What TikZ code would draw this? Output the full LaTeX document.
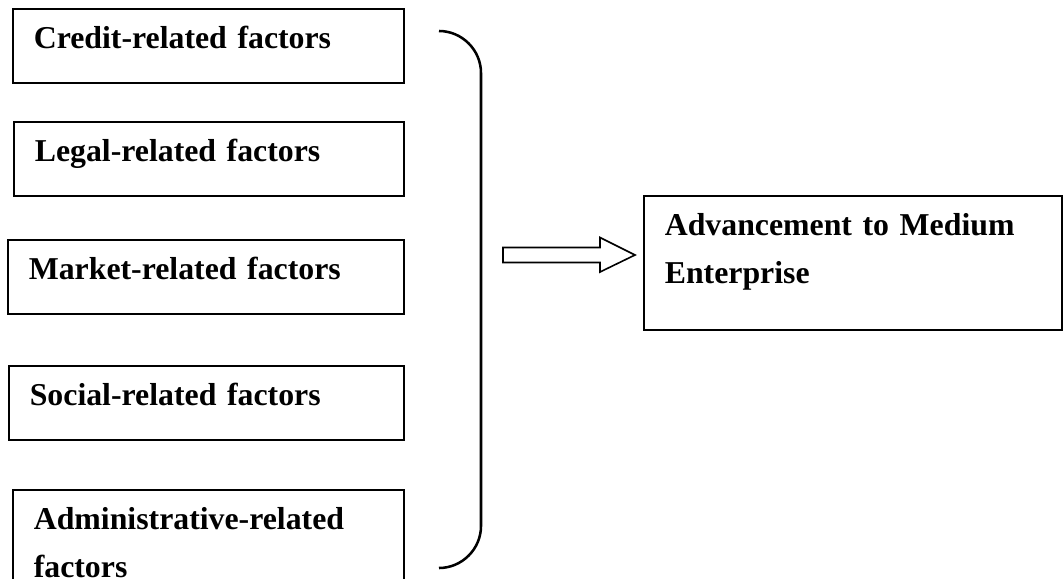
\documentclass[tikz,border=0pt]{standalone}
\usepackage{fontspec}
\setmainfont{Liberation Serif}
\usetikzlibrary{calc,positioning}

\begin{document}
\begin{tikzpicture}[x=0.75pt, y=-0.75pt
        , factor/.style={ draw, line width=1.2pt, anchor=north west, align=left,
            inner xsep=15.75pt, inner ysep=0pt, text height=30pt, text depth=25.5pt,
            font=\fontsize{23.85pt}{36pt}\selectfont\bfseries }
        , tall/.style={ factor, text depth=70.5pt }
        , brace/.style={ draw, line width=1.9pt }
        , hollow/.style={ draw, line width=1.2pt, fill=white }
        ]

        \useasboundingbox (0,0) rectangle (1063,578);
        \clip (0,0) rectangle (1063,578);

        \node[factor, text width=261.75pt] (credit) at (12,8) {Credit-related factors};
        \node[factor, text width=261pt] (legal) at (13,121) {Legal-related factors};
        \node[factor, text width=265.5pt] (market) at (7,239) {Market-related factors};
        \node[factor, text width=264.75pt] (social) at (8,365) {Social-related factors};
        \node[tall, text width=261.75pt] (admin) at (12,489) {Administrative-related\\factors};

        \node[tall, text width=282pt] (advance) at (643,195) {Advancement to Medium\\Enterprise};

        % closing brace round the five factors
        \coordinate (btop) at (439,31);
        \coordinate (bbot) at (439,568);
        \coordinate (bmid) at (481,255);
        \draw[brace] (btop) .. controls (462,31) and (481,50) .. (481,73)
            -- (481,526) .. controls (481,549) and (462,568) .. (bbot);

        % block arrow towards the outcome
        \coordinate (tail) at ($(bmid)+(22,0)$);
        \coordinate (tip) at ($(advance.west |- bmid)+(-8,0)$);
        \draw[hollow] (tail) ++(0,-7.5) -- ++(97,0) -- ++(0,-10) -- (tip)
            -- ++(-35,17) -- ++(0,-9.5) -- ++(-97,0) -- cycle;

    \end{tikzpicture}
\end{document}
